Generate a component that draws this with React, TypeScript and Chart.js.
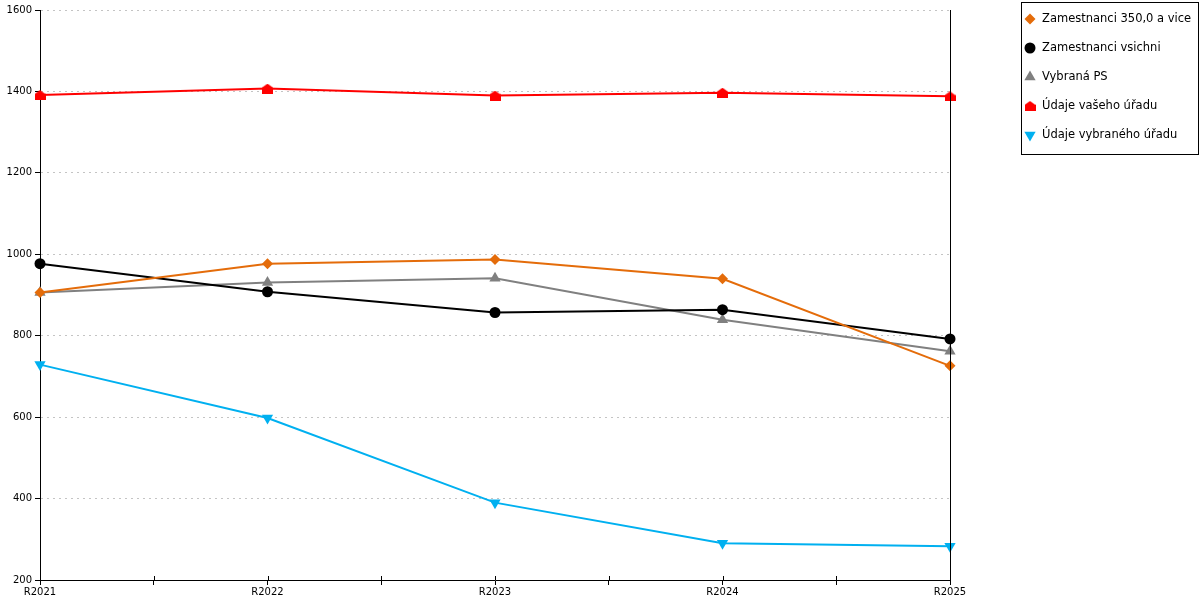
import React, { useEffect, useRef } from 'react';
import { Chart, registerables } from 'chart.js';
import { drawPoint } from 'chart.js/helpers';

Chart.register(...registerables);

const categories = ['R2021', 'R2022', 'R2023', 'R2024', 'R2025'];
const seriesNames = [
  'Zamestnanci 350,0 a vice',
  'Zamestnanci vsichni',
  'Vybraná PS',
  'Údaje vašeho úřadu',
  'Údaje vybraného úřadu',
];
const zamestnanci350 = [906, 977, 987, 940, 726];
const zamestnanciVsichni = [977, 908, 857, 864, 792];
const vybranaPS = [906, 931, 941, 839, 762];
const udajeVasehoUradu = [1391, 1407, 1390, 1397, 1388];
const udajeVybranehoUradu = [729, 598, 390, 290, 283];
const yTickValues = [200, 400, 600, 800, 1000, 1200, 1400, 1600];

const FONT = '"DejaVu Sans", Verdana, sans-serif';

function makeHouse(color: string): HTMLCanvasElement {
  const c = document.createElement('canvas');
  c.width = 11;
  c.height = 10;
  const ctx = c.getContext('2d')!;
  ctx.fillStyle = color;
  ctx.beginPath();
  ctx.moveTo(5.5, 0);
  ctx.lineTo(11, 4);
  ctx.lineTo(11, 10);
  ctx.lineTo(0, 10);
  ctx.lineTo(0, 4);
  ctx.closePath();
  ctx.fill();
  return c;
}

export default function App() {
  const ref = useRef<HTMLCanvasElement | null>(null);

  useEffect(() => {
    document.body.style.margin = '0';
    const canvas = ref.current;
    if (!canvas) return;
    const house = makeHouse('#ff0000');

    const styles: any[] = [
      { color: '#e46c0a', pointStyle: 'rectRot', radius: 5.5, rotation: 0 },
      { color: '#000000', pointStyle: 'circle', radius: 5.5, rotation: 0 },
      { color: '#808080', pointStyle: 'triangle', radius: 6.5, rotation: 0 },
      { color: '#ff0000', pointStyle: house, radius: 6, rotation: 0 },
      { color: '#00b0f0', pointStyle: 'triangle', radius: 6.5, rotation: 180 },
    ];
    const seriesValues = [
      zamestnanci350,
      zamestnanciVsichni,
      vybranaPS,
      udajeVasehoUradu,
      udajeVybranehoUradu,
    ];

    const datasets = seriesValues.map((vals, si) => ({
      label: seriesNames[si],
      data: vals.map((y, i) => ({ x: i, y })),
      borderColor: styles[si].color,
      backgroundColor: styles[si].color,
      borderWidth: 2,
      pointStyle: styles[si].pointStyle,
      pointRadius: styles[si].radius,
      pointRotation: styles[si].rotation,
      pointBorderWidth: 0,
      pointBackgroundColor: styles[si].color,
      pointBorderColor: styles[si].color,
      tension: 0,
      clip: false as any,
    }));

    const extras = {
      id: 'extras',
      afterDraw(chart: any) {
        const ctx = chart.ctx as CanvasRenderingContext2D;
        const area = chart.chartArea;
        ctx.save();
        // right border line
        ctx.strokeStyle = '#000';
        ctx.lineWidth = 1;
        ctx.beginPath();
        ctx.moveTo(Math.round(area.right) + 0.5, area.top);
        ctx.lineTo(Math.round(area.right) + 0.5, area.bottom);
        ctx.stroke();
        // inward x tick marks
        const xs = chart.scales.x;
        ctx.beginPath();
        xs.ticks.forEach((t: any) => {
          const px = Math.round(xs.getPixelForValue(t.value)) + 0.5;
          ctx.moveTo(px, area.bottom - 4);
          ctx.lineTo(px, area.bottom);
        });
        ctx.stroke();
        // legend box
        ctx.strokeStyle = '#000';
        ctx.strokeRect(1021.5, 2.5, 177, 152);
        ctx.font = '11.5px ' + FONT;
        ctx.fillStyle = '#000';
        ctx.textBaseline = 'middle';
        ctx.textAlign = 'left';
        seriesNames.forEach((name, i) => {
          const y = 19 + 29 * i;
          const s = styles[i];
          ctx.fillStyle = s.color;
          ctx.strokeStyle = s.color;
          drawPoint(ctx, { pointStyle: s.pointStyle, rotation: s.rotation, radius: s.radius, borderWidth: 0 } as any, 1030, y);
          ctx.fillStyle = '#000';
          ctx.fillText(name, 1042, y + 0.5);
        });
        ctx.restore();
      },
    };

    const chart = new Chart(canvas, {
      type: 'line',
      data: { datasets },
      options: {
        animation: false,
        responsive: false,
        devicePixelRatio: 1,
        layout: { padding: { top: 10, right: 250, left: 0, bottom: 0 } },
        plugins: {
          legend: { display: false },
          tooltip: { enabled: false },
          title: { display: false },
        },
        scales: {
          x: {
            type: 'linear',
            min: 0,
            max: categories.length - 1,
            afterFit: (s: any) => {
              s.height = 20;
            },
            ticks: {
              stepSize: 0.5,
              autoSkip: false,
              maxRotation: 0,
              padding: 1,
              color: '#000',
              font: { family: FONT, size: 10 },
              callback: (v: any) => (Number.isInteger(v) ? categories[v] : ''),
            },
            grid: {
              display: true,
              drawOnChartArea: false,
              drawTicks: true,
              tickLength: 5,
              tickColor: '#000',
              color: '#000',
            },
            border: { display: true, color: '#000', width: 1 },
          },
          y: {
            type: 'linear',
            min: yTickValues[0],
            max: yTickValues[yTickValues.length - 1],
            afterFit: (s: any) => {
              s.width = 40;
            },
            afterBuildTicks: (s: any) => {
              s.ticks = yTickValues.map((v) => ({ value: v }));
            },
            ticks: {
              padding: 3,
              color: '#000',
              font: { family: FONT, size: 10 },
              callback: (v: any) => String(v),
            },
            grid: {
              display: true,
              drawOnChartArea: true,
              drawTicks: true,
              tickLength: 5,
              color: '#c4c4c4',
              tickColor: '#000',
              tickBorderDash: [],
            } as any,
            border: { display: true, color: '#000', width: 1, dash: [2, 4] },
          },
        },
      },
      plugins: [extras],
    } as any);

    return () => chart.destroy();
  }, []);

  return (
    <div style={{ width: 1200, height: 600 }}>
      <canvas ref={ref} width={1200} height={600} style={{ display: 'block' }} />
    </div>
  );
}
